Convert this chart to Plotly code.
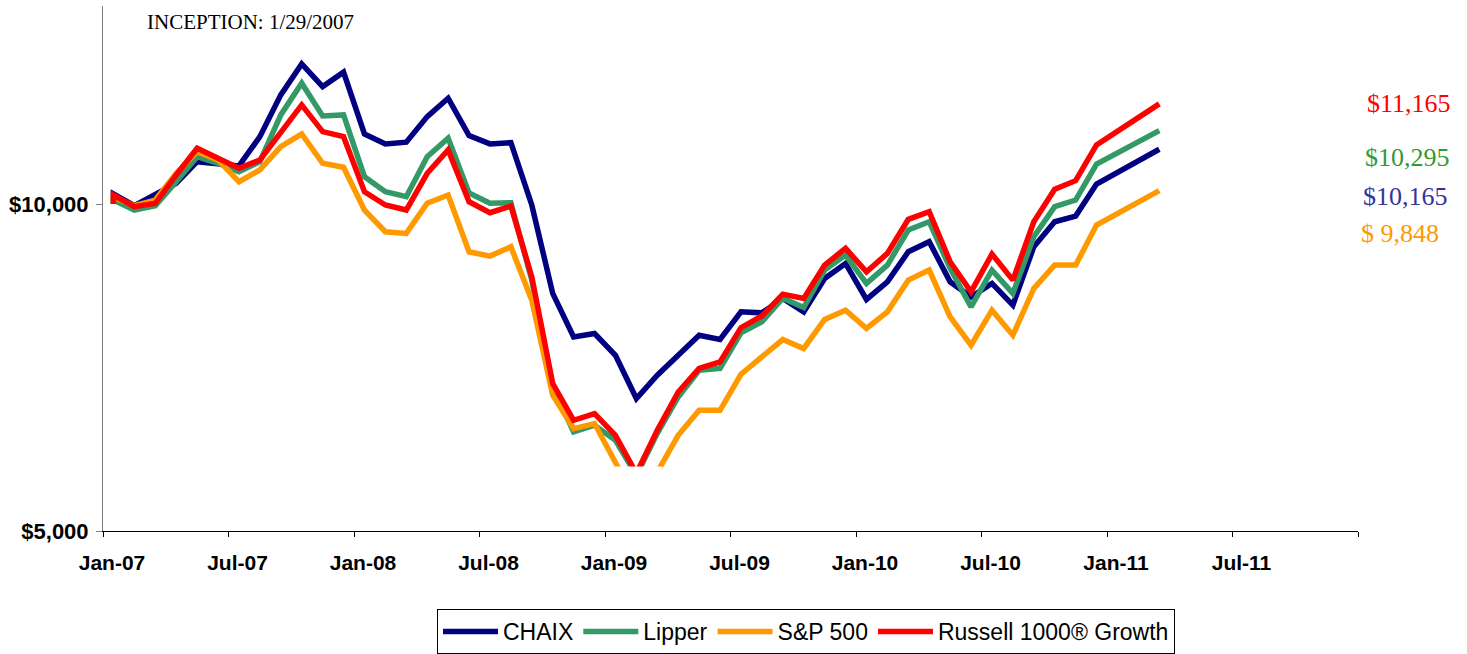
import plotly.graph_objects as go

# ---- data ----
# first entry is the inception point (1/29/2007), plotted in the Jan-07 slot
months = ["Jan-07", "Jan-07", "Feb-07", "Mar-07", "Apr-07", "May-07", "Jun-07", "Jul-07", "Aug-07",
          "Sep-07", "Oct-07", "Nov-07", "Dec-07", "Jan-08", "Feb-08", "Mar-08", "Apr-08", "May-08",
          "Jun-08", "Jul-08", "Aug-08", "Sep-08", "Oct-08", "Nov-08", "Dec-08", "Jan-09", "Feb-09",
          "Mar-09", "Apr-09", "May-09", "Jun-09", "Jul-09", "Aug-09", "Sep-09", "Oct-09", "Nov-09",
          "Dec-09", "Jan-10", "Feb-10", "Mar-10", "Apr-10", "May-10", "Jun-10", "Jul-10", "Aug-10",
          "Sep-10", "Oct-10", "Nov-10", "Dec-10", "Mar-11"]

chaix = [10000, 10153, 9974, 10153, 10317, 10648, 10623, 10582, 11030, 11669, 12143, 11796, 12016,
         11072, 10919, 10945, 11337, 11618, 11046, 10919, 10939, 9985, 8633, 7968, 8020, 7688, 7025,
         7382, 7688, 7994, 7929, 8351, 8336, 8556, 8351, 8862, 9092, 8541, 8810, 9270, 9423, 8810,
         8581, 8786, 8454, 9346, 9729, 9816, 10306, 10837]

lipper = [10000, 10061, 9908, 9974, 10341, 10724, 10623, 10495, 10648, 11363, 11848, 11347, 11363,
          10418, 10188, 10112, 10724, 11006, 10170, 10011, 10020, 8836, 7203, 6514, 6617, 6387, 5850,
          6494, 7050, 7459, 7485, 8030, 8198, 8560, 8418, 8990, 9219, 8786, 9066, 9602, 9729, 9016,
          8428, 8990, 8633, 9499, 9959, 10061, 10612, 11122]

sp500 = [10000, 10107, 9974, 10061, 10470, 10801, 10674, 10341, 10521, 10877, 11072, 10623, 10562,
         9908, 9576, 9551, 10011, 10138, 9270, 9204, 9346, 8530, 7076, 6566, 6643, 6050, 5450,
         5900, 6463, 6846, 6846, 7397, 7662, 7928, 7791, 8235, 8377, 8097, 8351, 8836, 8990, 8275,
         7841, 8377, 7994, 8709, 9066, 9066, 9678, 10204]

russell = [10000, 10138, 9959, 10011, 10444, 10853, 10700, 10547, 10674, 11107, 11516, 11107, 11030,
           10188, 9985, 9908, 10470, 10827, 10035, 9867, 9969, 8887, 7255, 6693, 6796, 6463, 5880,
           6540, 7126, 7485, 7586, 8109, 8288, 8622, 8556, 9066, 9322, 8964, 9245, 9766, 9882, 9117,
           8657, 9234, 8836, 9729, 10225, 10357, 10903, 11531]

series_names = ["CHAIX", "Lipper", "S&P 500", "Russell 1000® Growth"]
series_colors = ["#000080", "#339966", "#FF9900", "#FF0000"]

tick_labels = ["Jan-07", "Jul-07", "Jan-08", "Jul-08", "Jan-09", "Jul-09",
               "Jan-10", "Jul-10", "Jan-11", "Jul-11", ""]

end_labels = ["$11,165", "$10,295", "$10,165", "$ 9,848"]
end_label_colors = ["#FF0000", "#339933", "#333399", "#FF9900"]

# ---- helpers ----
MON = {m: i for i, m in enumerate(["Jan", "Feb", "Mar", "Apr", "May", "Jun",
                                   "Jul", "Aug", "Sep", "Oct", "Nov", "Dec"])}


def month_pos(lbl):
    m, y = lbl.split("-")
    return (int(y) - 7) * 12 + MON[m] + 0.5  # centre of the month slot


x = [month_pos(m) for m in months]

# plot-area geometry (pixels)
W, H = 1467, 654
L, R = 103, 1358
T, B = 6, 531


def px(xp):
    return (xp - L) / (R - L)


def py(yp):
    return (B - yp) / (B - T)


fig = go.Figure()
for name, vals, col in zip(series_names, [chaix, lipper, sp500, russell], series_colors):
    fig.add_trace(go.Scatter(x=x, y=vals, mode="lines", name=name,
                             line=dict(color=col, width=5.5)))

# white area hiding the lines below the visible trough (as in the reference)
fig.add_shape(type="rect", xref="x", yref="y", x0=24.4, x1=26.75, y0=5040, y1=5985,
              fillcolor="white", line=dict(width=0), layer="above")

fig.add_annotation(text="INCEPTION: 1/29/2007", xref="paper", yref="paper",
                   x=px(145), y=py(22), xanchor="left", yanchor="middle", showarrow=False,
                   font=dict(family="Liberation Serif", size=21, color="black"))

label_pos = [(1365, 104), (1363, 157), (1361, 196), (1359, 233)]
for txt, col, (lx, ly) in zip(end_labels, end_label_colors, label_pos):
    fig.add_annotation(text=txt, xref="paper", yref="paper", x=px(lx), y=py(ly),
                       xanchor="left", yanchor="middle", showarrow=False,
                       font=dict(family="Liberation Serif", size=26, color=col))

fig.update_layout(
    width=W, height=H,
    margin=dict(l=L, r=W - R, t=T, b=H - B, autoexpand=False),
    paper_bgcolor="white", plot_bgcolor="white",
    font=dict(family="Liberation Sans", color="black"),
    showlegend=True,
    legend=dict(orientation="h", x=px(437), y=py(609), xanchor="left", yanchor="top",
                bordercolor="#000000", borderwidth=1, bgcolor="white",
                font=dict(family="Liberation Sans", size=23, color="black"),
                itemwidth=55, tracegroupgap=0),
    xaxis=dict(range=[0, 60], tickmode="array", tickvals=list(range(0, 61, 6)),
               ticktext=tick_labels, showline=True, linecolor="black", linewidth=1,
               ticks="outside", ticklen=5, tickcolor="black", showgrid=False, zeroline=False,
               tickfont=dict(family="Liberation Sans", size=21, color="black", weight="bold"),
               ticklabelshift=9, ticklabelstandoff=8),
    yaxis=dict(range=[5000, 13028], tickmode="array", tickvals=[5000, 10000],
               ticktext=["$5,000", "$10,000"], showline=True, linecolor="#808080", linewidth=1,
               ticks="outside", ticklen=6, tickcolor="#808080", showgrid=False, zeroline=False,
               tickfont=dict(family="Liberation Sans", size=22, color="black", weight="bold"),
               ticklabelstandoff=3),
)

fig.write_html("out.html", config={"displayModeBar": False},
               post_script="document.body.style.margin='0';")
